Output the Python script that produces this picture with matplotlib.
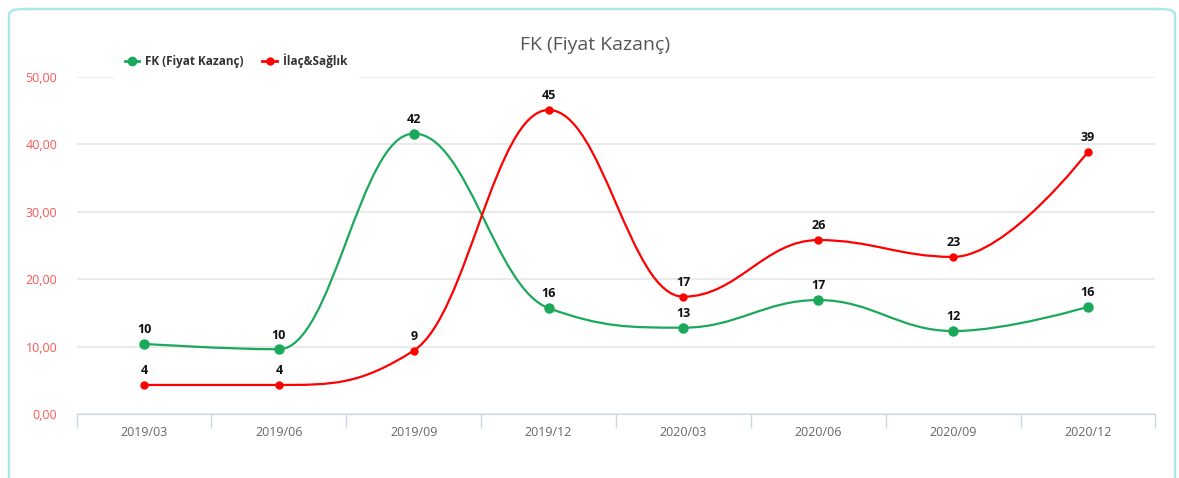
import matplotlib.pyplot as plt
import numpy as np
from matplotlib.path import Path
from matplotlib.patches import PathPatch, FancyBboxPatch
from matplotlib.lines import Line2D

quarters = ["2019/03", "2019/06", "2019/09", "2019/12", "2020/03", "2020/06", "2020/09", "2020/12"]
fk = [10.4, 9.6, 41.6, 15.7, 12.8, 16.9, 12.3, 15.9]
ilac = [4.3, 4.3, 9.4, 45.1, 17.4, 25.8, 23.3, 38.9]

green = "#1aa95a"
red = "#ff0000"

plt.rcParams["font.family"] = ["Open Sans", "DejaVu Sans"]


def spline_path(xs, ys, smoothing=1.5):
    # highcharts style spline -> cubic bezier segments
    denom = smoothing + 1
    n = len(xs)
    rc = [None] * n
    verts = [(xs[0], ys[0])]
    codes = [Path.MOVETO]
    for i in range(1, n):
        px, py = xs[i], ys[i]
        lcx, lcy = px, py
        if i < n - 1:
            lx, ly = xs[i - 1], ys[i - 1]
            nx, ny = xs[i + 1], ys[i + 1]
            lcx = (smoothing * px + lx) / denom
            lcy = (smoothing * py + ly) / denom
            rcx = (smoothing * px + nx) / denom
            rcy = (smoothing * py + ny) / denom
            corr = (rcy - lcy) * (rcx - px) / (rcx - lcx) + py - rcy
            lcy += corr
            rcy += corr
            if lcy > ly and lcy > py:
                lcy = max(ly, py); rcy = 2 * py - lcy
            elif lcy < ly and lcy < py:
                lcy = min(ly, py); rcy = 2 * py - lcy
            if rcy > ny and rcy > py:
                rcy = max(ny, py); lcy = 2 * py - rcy
            elif rcy < ny and rcy < py:
                rcy = min(ny, py); lcy = 2 * py - rcy
            rc[i] = (rcx, rcy)
        prev = rc[i - 1] if rc[i - 1] is not None else (xs[i - 1], ys[i - 1])
        verts += [prev, (lcx, lcy), (px, py)]
        codes += [Path.CURVE4] * 3
    return Path(verts, codes)


fig = plt.figure(figsize=(11.79, 4.78), dpi=100)
ax = fig.add_axes([0.065, 0.134, 0.915, 0.705])

border = FancyBboxPatch((9 / 1179, -0.2), 1166 / 1179, 1.2 - 9 / 478,
                        boxstyle="round,pad=0,rounding_size=0.012",
                        transform=fig.transFigure, fill=False,
                        edgecolor="#aee6f0", linewidth=1.8, zorder=0)
fig.patches.append(border)

x = np.arange(len(quarters))
for vals, col, ms in [(fk, green, 6.5), (ilac, red, 5)]:
    ax.add_patch(PathPatch(spline_path(x, vals), fill=False, edgecolor=col, lw=1.6, zorder=3))
    ax.plot(x, vals, "o", color=col, ms=ms, zorder=4)
    for xi, v in zip(x, vals):
        ax.annotate(f"{v:.0f}", (xi, v), xytext=(0, 5.5), textcoords="offset points",
                    ha="center", va="bottom", fontsize=9, fontweight="bold", color="#111111")

ax.set_xlim(-0.5, 7.5)
ax.set_ylim(0, 50)
ax.set_yticks(np.arange(0, 51, 10))
ax.set_yticklabels([f"{v},00" for v in range(0, 51, 10)])
ax.tick_params(axis="y", length=0, pad=14, labelsize=9, labelcolor="#ff5555")
ax.set_xticks(x)
ax.set_xticklabels(quarters)
ax.set_xticks(np.arange(-0.5, 8, 1), minor=True)
ax.tick_params(axis="x", which="major", length=0, pad=9, labelsize=9, labelcolor="#666666")
ax.tick_params(axis="x", which="minor", length=10, color="#ccd6eb", width=1)
ax.grid(axis="y", color="#e6e6e6", lw=1.2)
for s in ["top", "right", "left"]:
    ax.spines[s].set_visible(False)
ax.spines["bottom"].set_color("#ccd6eb")
ax.set_axisbelow(True)

fig.text(0.505, 0.905, "FK (Fiyat Kazanç)", ha="center", va="center", fontsize=14, color="#555555")

handles = [Line2D([], [], color=green, lw=2, marker="o", ms=6),
           Line2D([], [], color=red, lw=2, marker="o", ms=5)]
leg = fig.legend(handles, ["FK (Fiyat Kazanç)", "İlaç&Sağlık"], loc="center left",
                 bbox_to_anchor=(0.092, 0.872), ncol=2, frameon=True, fontsize=8.5,
                 handlelength=1.2, columnspacing=1.6, handletextpad=0.5, borderpad=0.9,
                 fancybox=False)
leg.get_frame().set_edgecolor("white")
leg.get_frame().set_facecolor("white")
leg.get_frame().set_alpha(1)
leg.set_zorder(5)
for t in leg.get_texts():
    t.set_fontweight("bold")
    t.set_color("#333333")

fig.savefig("out.png", dpi=100)
